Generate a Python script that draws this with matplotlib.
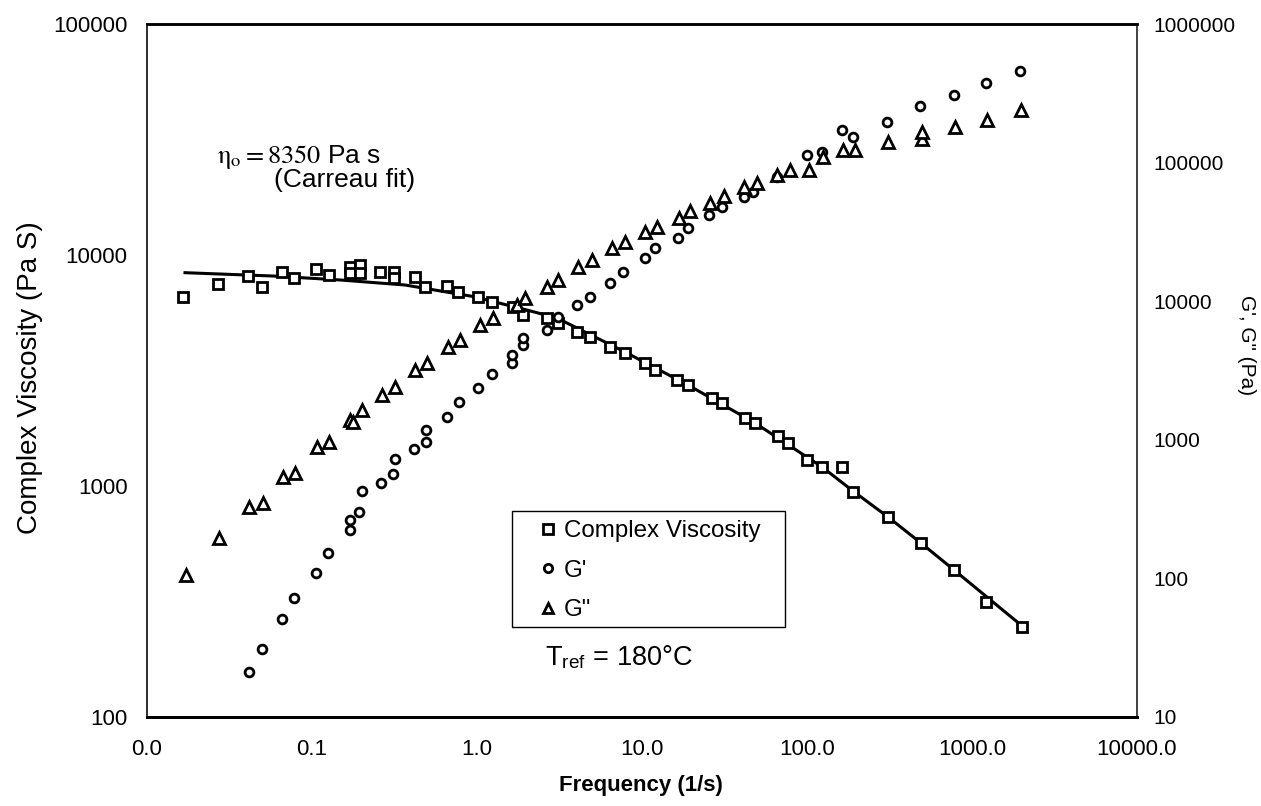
import matplotlib
matplotlib.use('Agg')
import matplotlib.pyplot as plt
from matplotlib.lines import Line2D
from matplotlib.patches import Rectangle

plt.rcParams['font.family'] = ['Liberation Sans', 'DejaVu Sans']
plt.rcParams['mathtext.fontset'] = 'stix'

# Complex viscosity (Pa s) vs frequency (1/s)
visc_freq = [0.0166, 0.0268, 0.0411, 0.0495, 0.0655, 0.0778, 0.106, 0.126, 0.170, 0.170,
             0.195, 0.195, 0.258, 0.312, 0.312, 0.421, 0.484, 0.655, 0.771, 1.018,
             1.228, 1.66, 1.91, 2.65, 3.11, 4.02, 4.84, 6.40, 7.89, 10.4,
             12.0, 16.3, 19.1, 26.4, 30.4, 42.1, 48.4, 67.0, 77.0, 100,
             123, 163, 191, 308, 489, 778, 1216, 2000]
visc = [6600, 7470, 8110, 7290, 8410, 7980, 8670, 8190, 8900, 8330,
        9050, 8330, 8470, 8470, 7930, 8050, 7290, 7340, 6940, 6600,
        6280, 5970, 5500, 5320, 5060, 4660, 4430, 4010, 3750, 3420,
        3180, 2880, 2740, 2400, 2290, 1960, 1870, 1640, 1530, 1300,
        1210, 1210, 945, 732, 568, 433, 316, 245]

# Carreau fit curve
fit_freq = [0.0170, 0.058, 0.148, 0.366, 0.946, 1.90, 3.05, 7.67, 19.0, 48.4,
            123.3, 190, 310, 491, 778, 1982]
fit_visc = [8383, 8110, 7796, 7416, 6612, 5837, 5337, 3841, 2736, 1874,
            1209, 951, 734, 566, 433, 250]

# Storage modulus G' (Pa)
gp_freq = [0.0417, 0.0500, 0.0655, 0.0778, 0.1057, 0.1245, 0.170, 0.170, 0.1935, 0.200,
           0.261, 0.311, 0.318, 0.417, 0.489, 0.489, 0.661, 0.778, 1.018, 1.228,
           1.63, 1.63, 1.909, 1.909, 2.645, 3.11, 4.02, 4.84, 6.40, 7.70,
           10.43, 11.99, 16.6, 19.1, 25.6, 30.4, 41.5, 47.3, 65.5, 99.5,
           122.7, 162.3, 190.9, 306.7, 484, 781, 1211, 1954]
gp = [21.2, 30.8, 50.9, 71.8, 108.8, 151.7, 223.5, 263.9, 302.8, 429.3,
      485.5, 566.5, 723, 858, 969, 1177, 1453, 1883, 2352, 2969,
      3565, 4091, 4831, 5398, 6197, 7730, 9389, 10780, 13600, 16330,
      20400, 24080, 28430, 33570, 41880, 48070, 56750, 61660, 79130, 113400,
      119800, 171900, 153800, 197300, 256100, 307400, 373400, 460300]

# Loss modulus G'' (Pa)
gpp_freq = [0.0172, 0.0274, 0.0417, 0.0502, 0.067, 0.0789, 0.1068, 0.1273, 0.170, 0.178,
            0.200, 0.2645, 0.318, 0.421, 0.500, 0.670, 0.789, 1.042, 1.256, 1.74,
            1.954, 2.645, 3.11, 4.11, 4.96, 6.55, 7.89, 10.43, 12.27, 16.8,
            19.5, 25.8, 31.5, 41.5, 49.6, 65.5, 78.9, 103.3, 125.6, 166,
            195.3, 311, 495.5, 495.5, 789, 1228, 1995]
gpp = [105.8, 194.7, 329, 348, 541.8, 578.8, 891.7, 969, 1390, 1351,
       1641, 2105, 2416, 3188, 3565, 4696, 5248, 6733, 7524, 9389,
       10490, 12720, 14220, 17740, 19830, 24080, 26880, 31720, 34470, 39640,
       44980, 51350, 57410, 66990, 70900, 81400, 88430, 88430, 110300, 123300,
       123300, 141500, 147300, 167100, 179800, 203000, 239600]

x_ticks = [0.01, 0.1, 1, 10, 100, 1000, 10000]
x_labels = ['0.0', '0.1', '1.0', '10.0', '100.0', '1000.0', '10000.0']
yl_ticks = [100, 1000, 10000, 100000]
yl_labels = ['100', '1000', '10000', '100000']
yr_ticks = [10, 100, 1000, 10000, 100000, 1000000]
yr_labels = ['10', '100', '1000', '10000', '100000', '1000000']

fig = plt.figure(figsize=(12.61, 8.06), dpi=100)
fig.patch.set_facecolor('white')
ax = fig.add_axes([147 / 1261, 1 - 717 / 806, 990 / 1261, 693 / 806])
ax2 = ax.twinx()

mk = dict(linestyle='none', markerfacecolor='white', markeredgecolor='black', color='black')
ax.plot(fit_freq, fit_visc, color='black', linewidth=2.2, zorder=2)
ax.plot(visc_freq, visc, marker='s', markersize=7.2, markeredgewidth=2.0, zorder=3, **mk)
ax2.plot(gp_freq, gp, marker='o', markersize=6.3, markeredgewidth=2.0, zorder=3, **mk)
ax2.plot(gpp_freq, gpp, marker='^', markersize=8.5, markeredgewidth=2.0, zorder=3, **mk)

ax.set_xscale('log')
ax.set_yscale('log')
ax2.set_yscale('log')
ax.set_xlim(0.01, 10000)
ax.set_ylim(100, 100000)
ax2.set_ylim(10, 1000000)

ax.set_xticks(x_ticks)
ax.set_xticklabels(x_labels)
ax.set_yticks(yl_ticks)
ax.set_yticklabels(yl_labels)
ax2.set_yticks(yr_ticks)
ax2.set_yticklabels(yr_labels)
for a in (ax, ax2):
    a.minorticks_off()
ax.tick_params(axis='x', length=0, pad=16, labelsize=16)
ax.tick_params(axis='y', length=0, pad=14, labelsize=16)
ax2.tick_params(axis='y', length=0, pad=12, labelsize=15)

for a in (ax, ax2):
    a.spines['top'].set_linewidth(1.8)
    a.spines['bottom'].set_linewidth(2.0)
    a.spines['left'].set_linewidth(1.3)
    a.spines['left'].set_color('#333333')
    a.spines['right'].set_linewidth(1.3)
    a.spines['right'].set_color('#444444')
    a.spines['right'].set_linestyle((0, (1, 1)))

ax.set_xlabel('Frequency (1/s)', fontsize=16, fontweight='bold')
ax.xaxis.set_label_coords(0.4985, -0.0835)
ax.set_ylabel('Complex Viscosity (Pa S)', fontsize=20, va='center')
ax.yaxis.set_label_coords(-0.118, 0.489)
ax2.set_ylabel("G', G\" (Pa)", fontsize=15, rotation=270, va='center')
ax2.yaxis.set_label_coords(1.111, 0.537)

ax.text(0.0704, 0.8085, r'$\mathrm{\eta_{o} = 8350}$ Pa s', transform=ax.transAxes,
        fontsize=19, ha='left', va='center')
ax.text(0.1283, 0.7749, '(Carreau fit)', transform=ax.transAxes,
        fontsize=19, ha='left', va='center')
ax.text(0.402, 0.0851, r'T$_{\mathregular{ref}}$ = 180°C', transform=ax.transAxes,
        fontsize=19.5, ha='left', va='center')

# legend frame drawn as a box, entries placed inside it
ax2.add_patch(Rectangle((0.3684, 0.1303), 0.276, 0.1674, transform=ax2.transAxes,
                        facecolor='white', edgecolor='black', linewidth=1.0, zorder=5))
handles = [
    Line2D([], [], marker='s', markersize=6.5, markeredgewidth=2.0, **mk),
    Line2D([], [], marker='o', markersize=6.0, markeredgewidth=2.0, **mk),
    Line2D([], [], marker='^', markersize=7.5, markeredgewidth=2.0, **mk),
]
leg = ax2.legend(handles, ['Complex Viscosity', "G'", 'G"'], loc='upper left',
                 bbox_to_anchor=(0.3929, 0.2843), fontsize=17.4, frameon=False,
                 handlelength=1.0, handletextpad=0.15, labelspacing=0.73,
                 borderpad=0, borderaxespad=0)
leg.set_zorder(6)

fig.savefig('out.png', dpi=100, facecolor='white')
